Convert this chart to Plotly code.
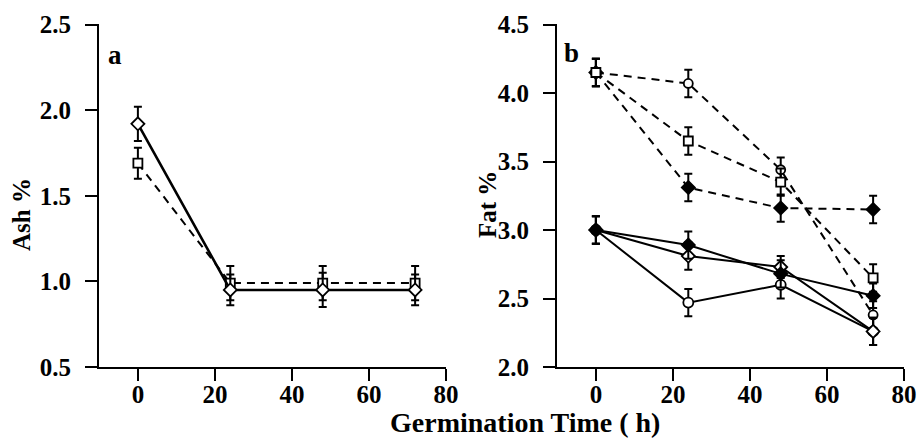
import plotly.graph_objects as go

# ---------------- data ----------------
hours = [0, 24, 48, 72]

# panel a (Ash %)
ash_diamond = [1.92, 0.95, 0.95, 0.95]
ash_diamond_err = [0.10, 0.09, 0.10, 0.09]
ash_square = [1.69, 0.99, 0.99, 0.99]
ash_square_err = [0.09, 0.10, 0.10, 0.10]

# panel b (Fat %) - dashed series
fat_d_circle = [4.15, 4.07, 3.44, 2.38]
fat_d_circle_err = [0.10, 0.10, 0.09, 0.10]
fat_d_square = [4.15, 3.65, 3.35, 2.65]
fat_d_square_err = [0.10, 0.10, 0.10, 0.10]
fat_d_fdiamond = [4.15, 3.31, 3.16, 3.15]
fat_d_fdiamond_err = [0.10, 0.10, 0.10, 0.10]

# panel b - solid series
fat_s_fdiamond = [3.00, 2.89, 2.68, 2.52]
fat_s_fdiamond_err = [0.10, 0.10, 0.10, 0.09]
fat_s_odiamond = [3.00, 2.81, 2.73, 2.26]
fat_s_odiamond_err = [0.10, 0.10, 0.08, 0.10]
fat_s_circle = [3.00, 2.47, 2.60, 2.26]
fat_s_circle_err = [0.10, 0.10, 0.10, 0.10]

x_ticks = [0, 20, 40, 60, 80]
ash_ticks = [0.5, 1.0, 1.5, 2.0, 2.5]
fat_ticks = [2.0, 2.5, 3.0, 3.5, 4.0, 4.5]

FONT = "Liberation Serif"
DASH = "8px,6px"

fig = go.Figure()


def add(x, y, err, symbol, filled, dash, xa, ya, width=2, msize=9):
    fig.add_trace(go.Scatter(
        x=x, y=y, xaxis=xa, yaxis=ya, mode="lines+markers",
        line=dict(color="black", width=width, dash=dash),
        marker=dict(symbol=symbol, size=msize, color="black" if filled else "white",
                    line=dict(color="black", width=1.8)),
        error_y=dict(type="data", array=err, visible=True, color="black", thickness=2, width=4),
        showlegend=False, cliponaxis=False,
    ))


# panel a
add(hours, ash_square, ash_square_err, "square", False, DASH, "x", "y")
add(hours, ash_diamond, ash_diamond_err, "diamond", False, "solid", "x", "y", width=2.6, msize=10)

# panel b dashed
add(hours, fat_d_fdiamond, fat_d_fdiamond_err, "diamond", True, DASH, "x2", "y2", msize=10)
add(hours, fat_d_circle, fat_d_circle_err, "circle", False, DASH, "x2", "y2")
add(hours, fat_d_square, fat_d_square_err, "square", False, DASH, "x2", "y2")
# panel b solid
add(hours, fat_s_circle, fat_s_circle_err, "circle", False, "solid", "x2", "y2", msize=10)
add(hours, fat_s_odiamond, fat_s_odiamond_err, "diamond", False, "solid", "x2", "y2", msize=10)
add(hours, fat_s_fdiamond, fat_s_fdiamond_err, "diamond", True, "solid", "x2", "y2", msize=10)

W, H = 917, 439


def px(x):
    return x / W


def py(y):
    return 1 - y / H


ydom = [py(367), py(24)]

axis_common = dict(
    showline=True, linecolor="black", linewidth=2, ticks="outside", ticklen=12,
    tickwidth=2, tickcolor="black", showgrid=False, zeroline=False, automargin=False,
    tickfont=dict(family=FONT, size=25, color="black", weight="bold"),
)

fig.update_layout(
    width=W, height=H, margin=dict(l=0, r=0, t=0, b=0, autoexpand=False),
    paper_bgcolor="white", plot_bgcolor="white",
    xaxis=dict(domain=[px(99), px(446)], range=[-10.1, 80.02], tickvals=x_ticks,
               anchor="y", ticklabelstandoff=-8, **axis_common),
    yaxis=dict(domain=ydom, range=[0.5, 2.503], tickvals=ash_ticks, tickformat=".1f",
               anchor="x", ticklabelstandoff=9, **axis_common),
    xaxis2=dict(domain=[px(557), px(904)], range=[-10.1, 80.02], tickvals=x_ticks,
                anchor="y2", ticklabelstandoff=-8, **axis_common),
    yaxis2=dict(domain=ydom, range=[2.0, 4.504], tickvals=fat_ticks, tickformat=".1f",
                anchor="x2", ticklabelstandoff=9, **axis_common),
)

ann_font = dict(family=FONT, color="black", weight="bold")


def label(text, x, y, size, angle=0):
    fig.add_annotation(text=text, x=px(x), y=py(y), xref="paper", yref="paper",
                       xanchor="center", yanchor="middle", textangle=angle,
                       showarrow=False, font=dict(size=size, **ann_font))


label("Ash %", 21, 215, 25, -90)
label("Fat %", 487, 205, 25, -90)
label("Germination Time ( h)", 525, 422, 28)
label("a", 115, 55, 27)
label("b", 571, 53, 27)

# remove the default 8px page margin so the figure fills the 917x439 window exactly
fig.write_html("out.html", config={"displayModeBar": False},
               post_script="document.body.style.margin='0px';")
